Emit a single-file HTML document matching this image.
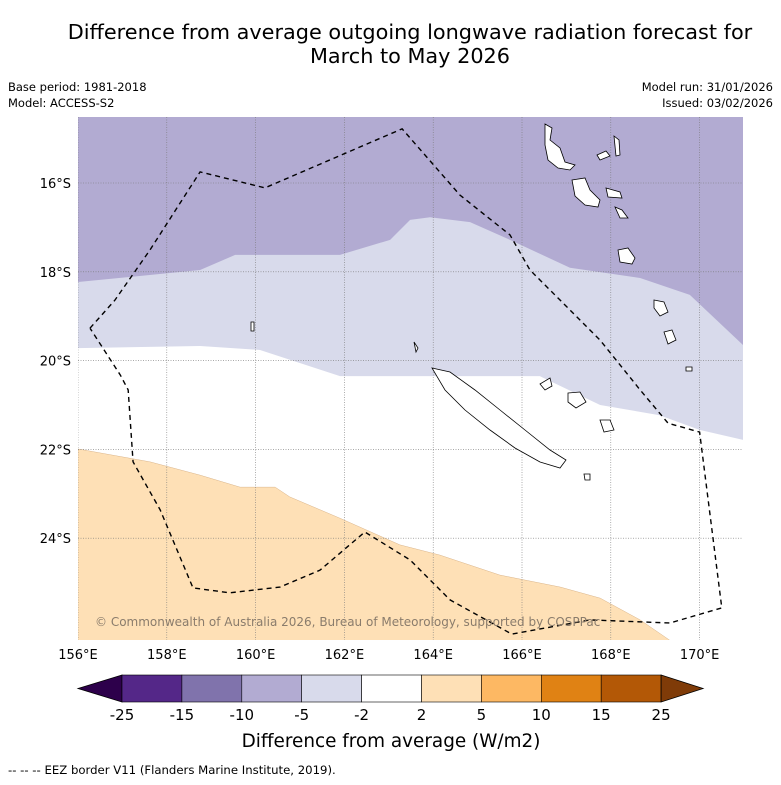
<!DOCTYPE html>
<html><head><meta charset="utf-8">
<style>
body{margin:0;background:#fff;font-family:"DejaVu Sans","Liberation Sans",sans-serif;}
svg text{font-family:"DejaVu Sans","Liberation Sans",sans-serif;}
</style></head>
<body>
<svg id="chart" width="781" height="781" viewBox="0 0 781 781">
<rect width="781" height="781" fill="#fff"/>
<text x="410" y="39" text-anchor="middle" font-size="20.8">Difference from average outgoing longwave radiation forecast for</text>
<text x="410" y="63" text-anchor="middle" font-size="20.8">March to May 2026</text>
<text x="8" y="91" font-size="11.5">Base period: 1981-2018</text>
<text x="8" y="107" font-size="11.5">Model: ACCESS-S2</text>
<text x="773" y="91" font-size="11.5" text-anchor="end">Model run: 31/01/2026</text>
<text x="773" y="107" font-size="11.5" text-anchor="end">Issued: 03/02/2026</text>
<defs><clipPath id="mapclip"><rect x="78" y="117" width="665" height="523"/></clipPath></defs>
<g id="map" clip-path="url(#mapclip)"></g>
<g id="axes"></g>
<g id="cbar"></g>
<text x="391" y="747" text-anchor="middle" font-size="18.4">Difference from average (W/m2)</text>
<text x="8" y="774" font-size="11.7">--  --  -- EEZ border V11 (Flanders Marine Institute, 2019).</text>
</svg>
<script>
const lonTicks=[156,158,160,162,164,166,168,170];
const latTicks=[16,18,20,22,24];
const darkLon=[156,158.75,159.54,161.9,163.03,163.48,163.93,164.83,165.73,167.08,168.66,169.78,170.98,171.2];
const darkLat=[18.23,17.96,17.62,17.62,17.28,16.83,16.77,16.88,17.28,17.91,18.14,18.52,19.65,19.8];
const lightLon=[156,158.75,160.1,161.9,166.4,167.76,169.1,170,171,171.2];
const lightLat=[19.72,19.67,19.76,20.35,20.35,21.0,21.23,21.56,21.79,21.8];
const orangeLon=[156,157.62,158.75,159.65,160.44,160.77,161.9,163.25,164.15,165.5,166.86,167.76,168.66,169.33];
const orangeLat=[21.99,22.28,22.58,22.85,22.85,23.07,23.55,24.15,24.38,24.83,25.1,25.35,25.84,26.3];
const eezLon=[156.27,156.83,157.62,158.75,160.21,163.3,164.6,165.73,166.18,167.19,167.76,168.66,169.29,170.0,170.5,169.33,167.53,165.77,164.38,163.48,162.46,161.45,160.55,159.42,158.59,157.85,157.24,157.13,156.95,156.27];
const eezLat=[19.27,18.64,17.51,15.75,16.11,14.78,16.27,17.17,17.96,18.97,19.54,20.66,21.41,21.61,25.57,25.91,25.84,26.16,25.39,24.49,23.86,24.72,25.1,25.23,25.12,23.36,22.28,20.66,20.32,19.27];
const cbLevels=["-25","-15","-10","-5","-2","2","5","10","15","25"];
const cbColors=["#542788","#8073ac","#b2abd2","#d8daeb","#ffffff","#fee0b6","#fdb863","#e08214","#b35806"];

const K=44.4;
const X=lon=>78+(lon-156)*K;
const Y=lat=>183+(lat-16)*K;
const NS="http://www.w3.org/2000/svg";
function mk(tag,attrs,parent){const e=document.createElementNS(NS,tag);for(const k in attrs)e.setAttribute(k,attrs[k]);parent.appendChild(e);return e;}
const map=document.getElementById('map');
function pts(lons,lats){return lons.map((l,i)=>X(l)+','+Y(lats[i])).join(' ');}
let r=mk('rect',{x:70,y:110,width:690,height:540,fill:'#b2abd2'},map);


let p=mk('polygon',{points:pts(darkLon,darkLat)+' '+X(171.2)+','+Y(27)+' '+X(155.8)+','+Y(27),fill:'#d8daeb'},map);


p=mk('polygon',{points:pts(lightLon,lightLat)+' '+X(171.2)+','+Y(27)+' '+X(155.8)+','+Y(27),fill:'#ffffff'},map);


p=mk('polygon',{points:pts(orangeLon,orangeLat)+' '+X(155.8)+','+Y(27),fill:'#fee0b6',stroke:'#d9b48a','stroke-width':0.5},map);


lonTicks.forEach(l=>{const g=mk('line',{x1:X(l),x2:X(l),y1:117,y2:640,stroke:'#777','stroke-width':0.6,'stroke-dasharray':'1,1.5'},map);

});
latTicks.forEach(l=>{const g=mk('line',{x1:78,x2:743,y1:Y(l),y2:Y(l),stroke:'#777','stroke-width':0.6,'stroke-dasharray':'1,1.5'},map);

});
const islands=["M432,368 L450,372 L475,390 L500,410 L525,430 L550,450 L566,460 L560,468 L540,462 L515,448 L490,430 L465,410 L445,390 Z",
"M545,124 L552,128 L550,140 L560,148 L565,162 L575,165 L570,170 L558,168 L548,160 L545,145 Z",
"M614,136 L619,140 L620,155 L616,156 Z","M597,155 L606,151 L610,156 L600,160 Z",
"M572,180 L585,178 L590,190 L600,200 L598,207 L585,205 L575,196 Z","M606,188 L620,192 L622,198 L608,197 Z",
"M615,207 L622,210 L628,218 L620,218 Z","M618,250 L628,248 L635,258 L632,264 L620,262 Z",
"M654,300 L664,302 L668,312 L660,316 L654,308 Z","M664,332 L672,330 L676,340 L668,344 Z",
"M686,367 L692,367 L692,371 L686,371 Z","M540,384 L550,378 L552,386 L545,390 Z",
"M568,393 L580,392 L586,402 L576,408 L568,402 Z","M600,420 L610,420 L614,430 L604,432 Z",
"M584,474 L590,474 L590,480 L585,480 Z","M251,322 L254,322 L254,331 L251,331 Z","M414,342 L418,348 L416,352 Z"];
islands.forEach((d,i)=>{const e=mk('path',{d:d,fill:'#fff',stroke:'#000','stroke-width':0.8},map);

});
p=mk('polyline',{points:pts(eezLon,eezLat),fill:'none',stroke:'#000','stroke-width':1.4,'stroke-dasharray':'5,4'},map);


const cp=mk('text',{x:95,y:626,'font-size':12,fill:'#8a7c6c'},map);
cp.textContent='© Commonwealth of Australia 2026, Bureau of Meteorology, supported by COSPPac';


const axes=document.getElementById('axes');
lonTicks.forEach(l=>{const t=mk('text',{x:X(l),y:659,'font-size':13,'text-anchor':'middle'},axes);t.textContent=l+'°E';

});
latTicks.forEach(l=>{const t=mk('text',{x:71,y:Y(l)+5,'font-size':13,'text-anchor':'end'},axes);t.textContent=l+'°S';

});
const cb=document.getElementById('cbar');
const cx0=122,cw=59.9,cy=675,ch=27;
let tl=mk('polygon',{points:`78,${cy+ch/2} ${cx0},${cy} ${cx0},${cy+ch}`,fill:'#2d004b',stroke:'#000','stroke-width':0.8},cb);


cbColors.forEach((c,i)=>{const e=mk('rect',{x:cx0+i*cw,y:cy,width:cw,height:ch,fill:c,stroke:'#000','stroke-width':0.6},cb);

});
const cx1=cx0+cbColors.length*cw;
tl=mk('polygon',{points:`${cx1},${cy} ${cx1+42},${cy+ch/2} ${cx1},${cy+ch}`,fill:'#7f3b08',stroke:'#000','stroke-width':0.8},cb);


cbLevels.forEach((s,i)=>{const t=mk('text',{x:cx0+i*cw,y:720,'font-size':15,'text-anchor':'middle'},cb);t.textContent=s;

});
</script>
</body></html>
